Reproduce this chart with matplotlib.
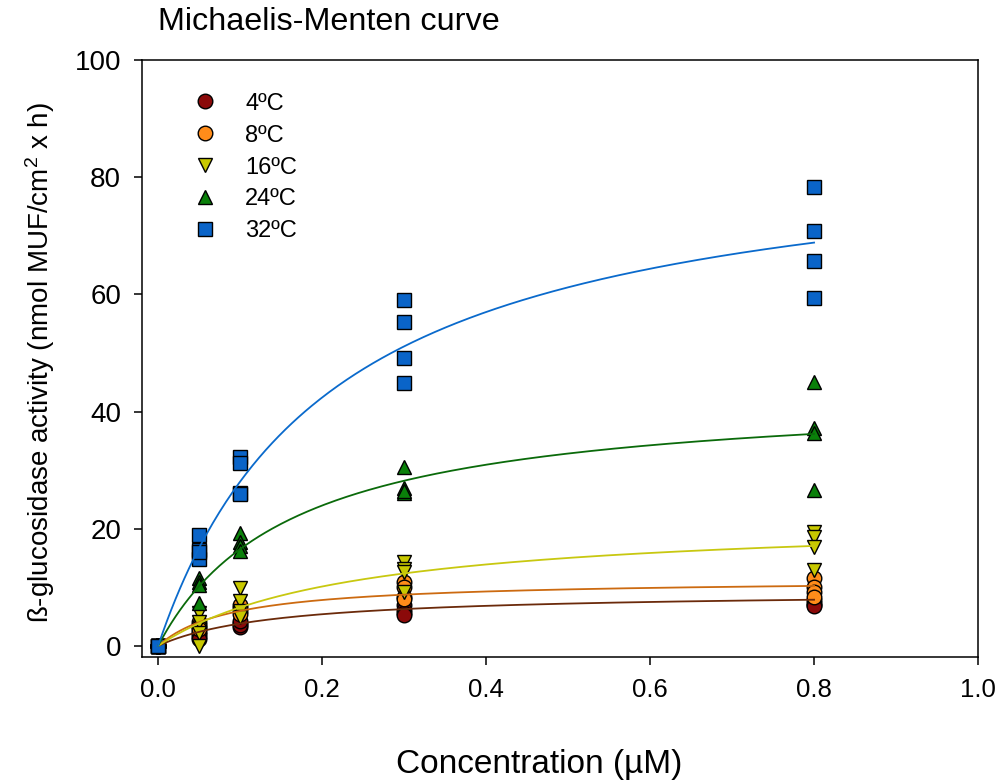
import numpy as np
import matplotlib
matplotlib.use('Agg')
import matplotlib.pyplot as plt

plt.rcParams['font.family'] = ['Liberation Sans', 'DejaVu Sans']
plt.rcParams['mathtext.fontset'] = 'custom'
plt.rcParams['mathtext.rm'] = 'Liberation Sans'
plt.rcParams['mathtext.it'] = 'Liberation Sans'

# substrate concentrations (uM), 4 replicates each
conc = [0.0, 0.05, 0.1, 0.3, 0.8]

act_4 = [[0, 0, 0, 0], [2.4, 1.5, 2.0, 1.2], [3.9, 3.2, 3.5, 4.2],
         [7.0, 6.1, 5.6, 5.3], [7.8, 7.3, 7.0, 6.8]]
act_8 = [[0, 0, 0, 0], [4.1, 3.6, 3.2, 2.8], [6.5, 6.0, 5.5, 7.0],
         [10.9, 10.0, 8.4, 8.0], [11.6, 10.1, 9.2, 8.4]]
act_16 = [[0, 0, 0, 0], [5.6, 4.0, 2.2, 0.0], [9.8, 7.6, 6.0, 5.0],
          [14.3, 13.2, 12.6, 9.2], [19.5, 18.6, 16.9, 13.0]]
act_24 = [[0, 0, 0, 0], [11.6, 10.9, 10.4, 7.3], [19.3, 17.7, 17.0, 16.2],
          [30.5, 27.0, 26.1, 26.4], [45.1, 37.2, 36.3, 26.6]]
act_32 = [[0, 0, 0, 0], [18.9, 16.4, 14.8, 16.0], [32.3, 31.2, 26.1, 26.0],
          [59.0, 55.3, 49.1, 44.9], [78.3, 70.8, 65.7, 59.4]]

# fitted Michaelis-Menten parameters
vmax = [9.3, 11.4, 22.1, 43.6, 86.9]
km = [0.144, 0.091, 0.236, 0.164, 0.21]

labels = ['4ºC', '8ºC', '16ºC', '24ºC', '32ºC']
series = [act_4, act_8, act_16, act_24, act_32]
markers = ['o', 'o', 'v', '^', 's']
face = ['#8B0A0A', '#FF8C1A', '#C8C800', '#0A800A', '#0A64C8']
line_col = ['#6B2A0A', '#CC6A10', '#C8C810', '#0A6A0A', '#0A6ACC']

fig = plt.figure(figsize=(9.98, 7.82), dpi=100)
ax = fig.add_axes([0.1423, 0.1598, 0.8377, 0.7635])

for vals, m, fc, lab in zip(series, markers, face, labels):
    xs = np.repeat(conc, 4)
    ys = np.array(vals).ravel()
    ax.plot(xs, ys, linestyle='none', marker=m, markersize=10.5,
            markerfacecolor=fc, markeredgecolor='black', markeredgewidth=1.0,
            label=lab, zorder=3)

s = np.linspace(0, max(conc), 300)
for v, k, c in zip(vmax, km, line_col):
    ax.plot(s, v * s / (k + s), color=c, linewidth=1.3, zorder=4)

ax.set_xlim(-0.0196, 1.0)
ax.set_ylim(-1.9, 100)
ax.set_xticks([0.0, 0.2, 0.4, 0.6, 0.8, 1.0])
ax.set_xticklabels(['0.0', '0.2', '0.4', '0.6', '0.8', '1.0'])
ax.set_yticks([0, 20, 40, 60, 80, 100])
ax.tick_params(direction='out', length=6, width=1.1,
               top=False, right=False)
ax.tick_params(axis='x', pad=9, labelsize=18.5)
ax.tick_params(axis='y', pad=9, labelsize=20)
for sp in ax.spines.values():
    sp.set_linewidth(1.1)

ax.legend(loc='upper left', bbox_to_anchor=(0.050, 0.961), frameon=False,
          fontsize=17, labelspacing=0.42, handlelength=1.0,
          handletextpad=1.2, borderaxespad=0)

fig.text(158 / 998, 1 - 22 / 782, 'Michaelis-Menten curve', fontsize=23.3,
         ha='left', va='center')
fig.text(539 / 998, 1 - 765 / 782, 'Concentration (µM)', fontsize=24,
         ha='center', va='center')
fig.text(40 / 998, 1 - 362 / 782,
         'ß-glucosidase activity (nmol MUF/cm$^2$ x h)', fontsize=20,
         rotation=90, ha='center', va='center')

plt.savefig('out.png', dpi=100)
